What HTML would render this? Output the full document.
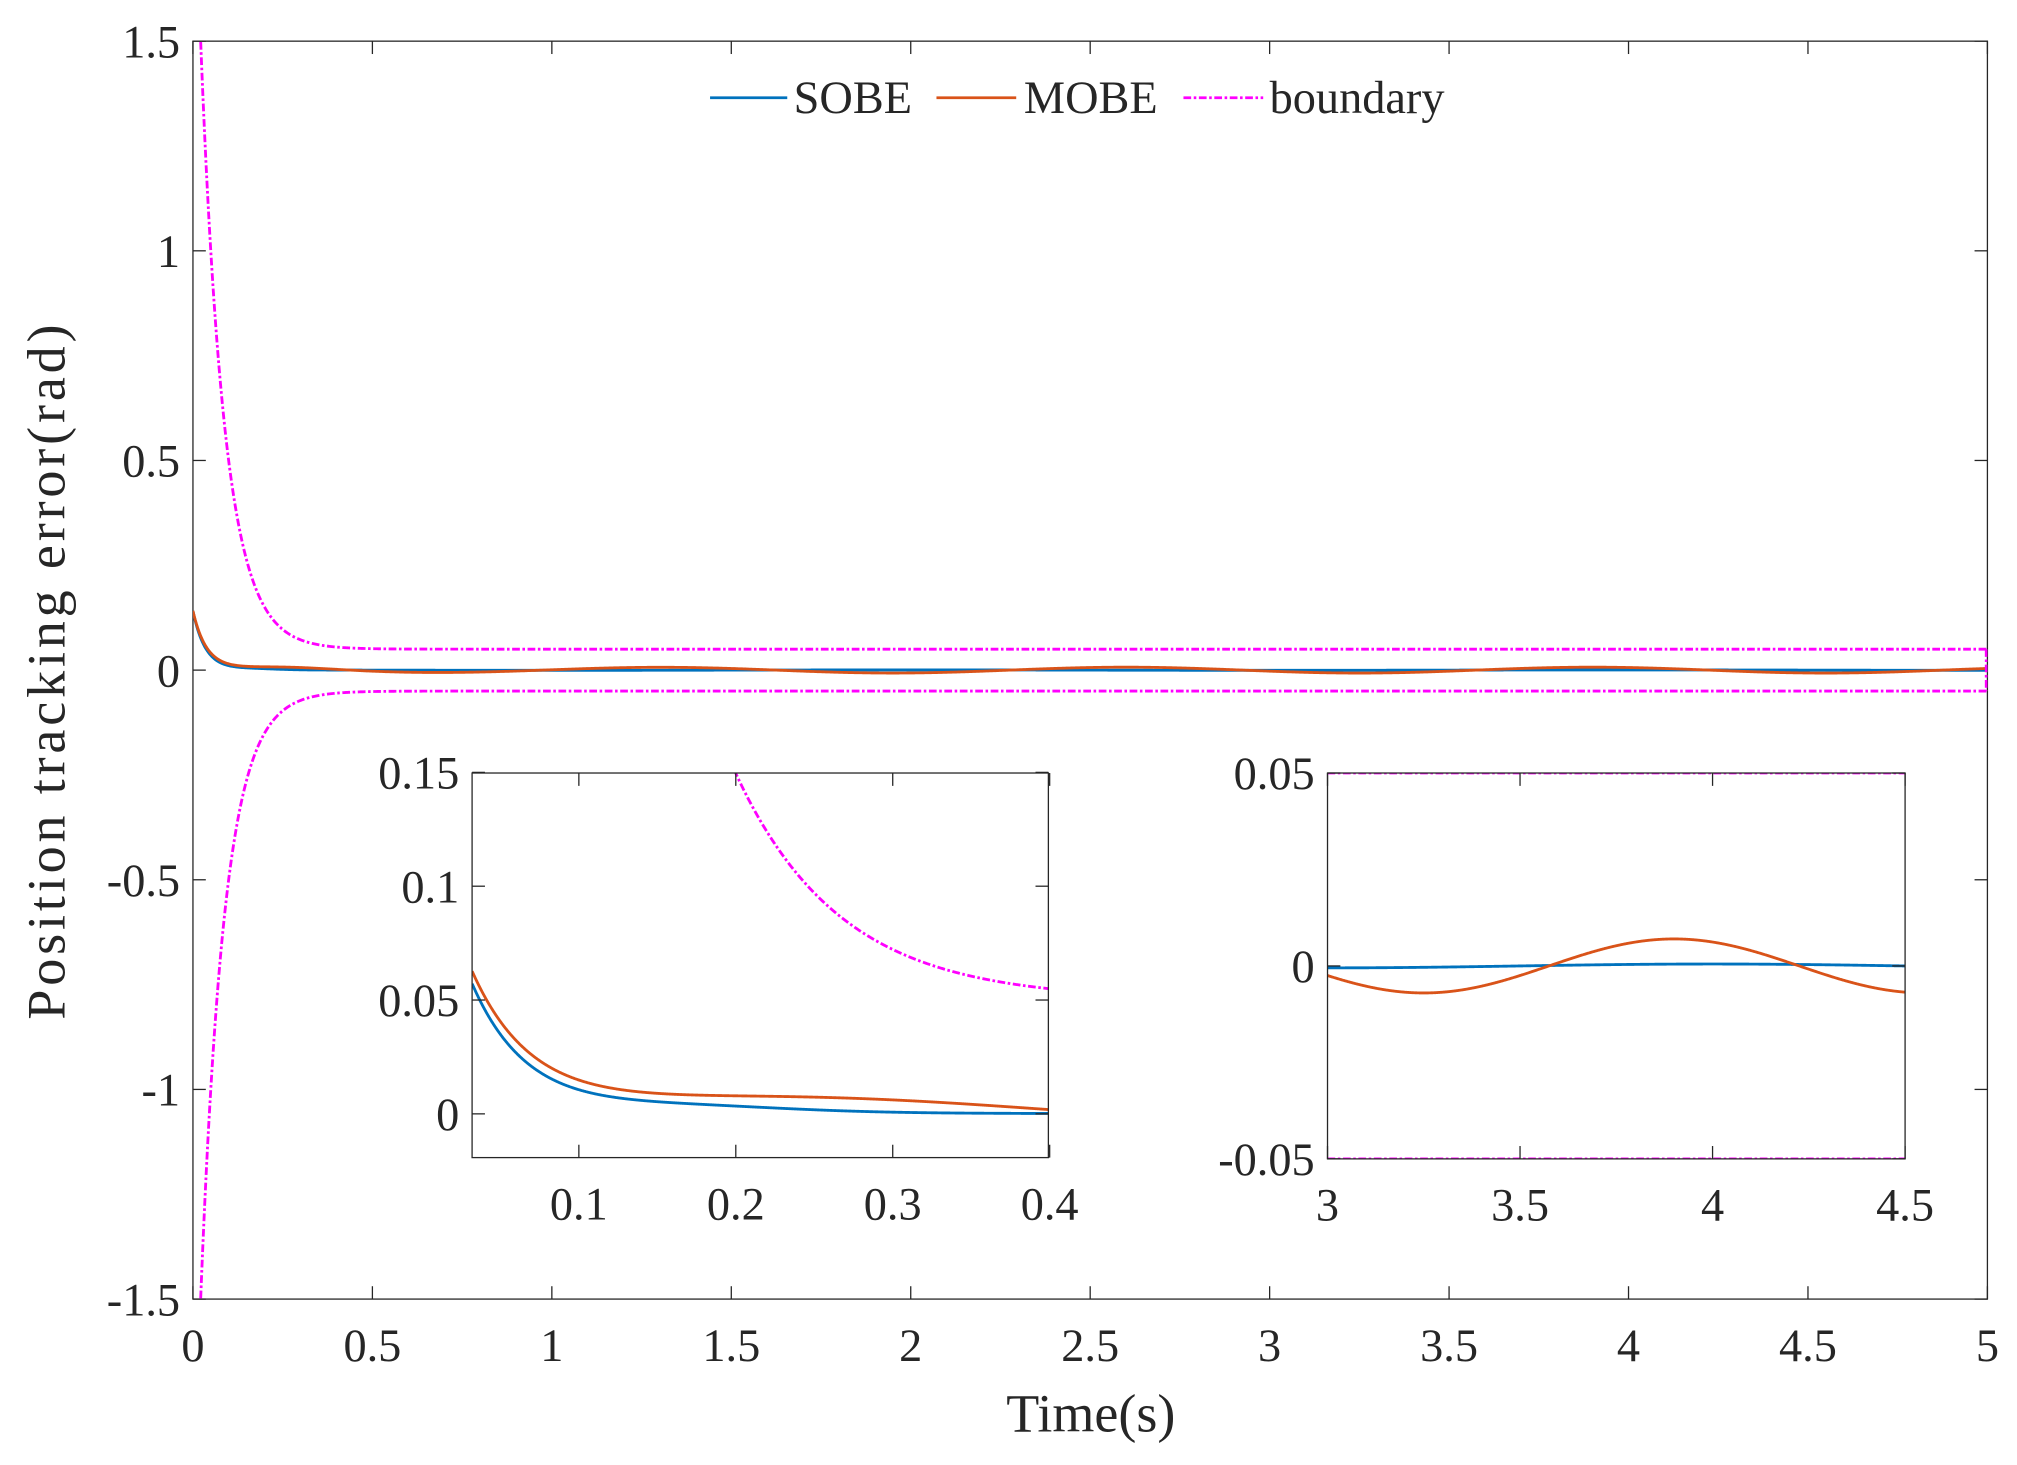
<!DOCTYPE html>
<html><head><meta charset="utf-8"><style>html,body{margin:0;padding:0;background:#fff;overflow:hidden;width:2017px;height:1465px}svg{display:block}</style></head>
<body>
<svg id="s" width="2017" height="1465" viewBox="0 0 1568 1139" preserveAspectRatio="none" xmlns="http://www.w3.org/2000/svg" font-family="'Liberation Serif', 'Times New Roman', Times, serif" style="font-family:'Liberation Serif','Times New Roman',Times,serif">
<defs>
<clipPath id="c0"><rect x="150" y="32" width="1395" height="978"/></clipPath>
<clipPath id="c1"><rect x="367" y="601" width="448" height="299"/></clipPath>
<clipPath id="c2"><rect x="1032" y="601" width="449" height="300"/></clipPath>
</defs>
<g id="g"></g>
</svg>
<script>
const NS="http://www.w3.org/2000/svg";const g=document.getElementById('g');
const FF="'Liberation Serif','Times New Roman',Times,serif";
function el(t,a,txt){const e=document.createElementNS(NS,t);for(const k in a)e.setAttribute(k,a[k]);if(txt!==undefined){e.textContent=txt;e.setAttribute('font-family',FF);e.style.fontFamily=FF;}g.appendChild(e);return e;}
const rho=t=>2.0*Math.exp(-15*t)+0.05;
const osc=t=>-0.007*Math.cos(2*Math.PI*(t-3.25)/1.3);
const mobe=t=>0.14*Math.exp(-t/0.038)+osc(t)*(1-Math.exp(-t/0.4))+0.006*Math.exp(-Math.pow((t-0.25)/0.2,2));
const sobe=t=>0.14*Math.exp(-t/0.035)+0.003*Math.exp(-Math.pow((t-0.16)/0.1,2))+0.0005*Math.sin(2*Math.PI*(t-3.5)/2);
function path(f,t0,t1,X,Y,n){let d='';for(let i=0;i<=n;i++){const t=t0+(t1-t0)*i/n;const x=X(t),y=Y(f(t));d+=(i?'L':'M')+x.toFixed(2)+' '+y.toFixed(2);}return d;}
function axes(x0,y0,x1,y1,xt,yt,X,Y,fs){
 el('rect',{x:x0,y:y0,width:x1-x0,height:y1-y0,fill:'none',stroke:'#262626','stroke-width':1});
 xt.forEach(v=>{const x=X(v);el('line',{x1:x,y1:y1,x2:x,y2:y1-10,stroke:'#262626'});el('line',{x1:x,y1:y0,x2:x,y2:y0+10,stroke:'#262626'});el('text',{x:x,y:y1+fs+12,'font-size':fs,'text-anchor':'middle',fill:'#262626'},String(v));});
 yt.forEach(v=>{const y=Y(v);el('line',{x1:x0,y1:y,x2:x0+10,y2:y,stroke:'#262626'});el('line',{x1:x1,y1:y,x2:x1-10,y2:y,stroke:'#262626'});el('text',{x:x0-10,y:y+fs*0.35,'font-size':fs,'text-anchor':'end',fill:'#262626'},String(v));});
}
function series(X,Y,t0,t1,clip,boundary){
 const gg=document.createElementNS(NS,'g');gg.setAttribute('clip-path','url(#'+clip+')');g.appendChild(gg);
 const add=(d,c,dash)=>{const p=document.createElementNS(NS,'path');p.setAttribute('d',d);p.setAttribute('fill','none');p.setAttribute('stroke',c);p.setAttribute('stroke-width',2.2);if(dash)p.setAttribute('stroke-dasharray',dash);gg.appendChild(p);};
 if(boundary){add(path(rho,t0,t1,X,Y,1500),'#ff00ff','6 2 2 2');add(path(t=>-rho(t),t0,t1,X,Y,1500),'#ff00ff','6 2 2 2');}
 add(path(sobe,t0,t1,X,Y,1500),'#0072bd');add(path(mobe,t0,t1,X,Y,1500),'#d95319');
}
let X=t=>150+t*279, Y=v=>521-v*326;
axes(150,32,1545,1010,[0,0.5,1,1.5,2,2.5,3,3.5,4,4.5,5],[1.5,1,0.5,0,-0.5,-1,-1.5],X,Y,36);
series(X,Y,0,5,'c0',true);
el('line',{x1:1544,y1:Y(0.05),x2:1544,y2:Y(-0.05),stroke:'#ff00ff','stroke-width':2,'stroke-dasharray':'6 2 2 2'});
el('text',{x:848,y:1113,'font-size':42,'text-anchor':'middle',fill:'#262626'},'Time(s)');
el('text',{transform:'translate(50,521) rotate(-90)','font-size':42,'text-anchor':'middle',fill:'#262626','letter-spacing':'3'},'Position tracking error(rad)');
el('rect',{x:367,y:601,width:448,height:299,fill:'#fff'});
let X1=t=>450+(t-0.1)*1220, Y1=v=>866-v*1770;
series(X1,Y1,0.032,0.4,'c1',true);
axes(367,601,815,900,[0.1,0.2,0.3,0.4],[0.15,0.1,0.05,0],X1,Y1,36);
el('rect',{x:1032,y:601,width:449,height:300,fill:'#fff'});
let X2=t=>1032+(t-3)*299.33, Y2=v=>751-v*3000;
series(X2,Y2,3,4.5,'c2',true);
axes(1032,601,1481,901,[3,3.5,4,4.5],[0.05,0,-0.05],X2,Y2,36);
el('line',{x1:552,y1:76,x2:612,y2:76,stroke:'#0072bd','stroke-width':2.2});
el('text',{x:617,y:88,'font-size':36,fill:'#262626'},'SOBE');
el('line',{x1:728,y1:76,x2:790,y2:76,stroke:'#d95319','stroke-width':2.2});
el('text',{x:796,y:88,'font-size':36,fill:'#262626'},'MOBE');
el('line',{x1:920,y1:76,x2:982,y2:76,stroke:'#ff00ff','stroke-width':2.2,'stroke-dasharray':'6 2 2 2'});
el('text',{x:987,y:88,'font-size':36,fill:'#262626'},'boundary');
</script>
</body></html>
